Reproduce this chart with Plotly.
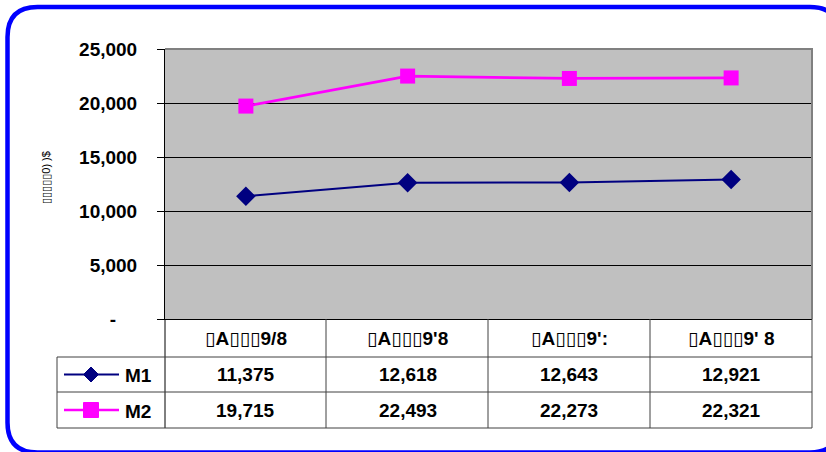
import plotly.graph_objects as go

B = "\u25af"
categories = [f"{B}A{B}{B}{B}9/8", f"{B}A{B}{B}{B}9'8", f"{B}A{B}{B}{B}9':", f"{B}A{B}{B}{B}9' 8"]
series_names = ["M1", "M2"]
m1_values = [11375, 12618, 12643, 12921]
m2_values = [19715, 22493, 22273, 22321]
y_tick_vals = [0, 5000, 10000, 15000, 20000, 25000]
y_tick_text = ["-\u00a0\u00a0\u00a0\u00a0", "5,000", "10,000", "15,000", "20,000", "25,000"]
y_title = f"{B}{B}{B}{B}{B}0) )$"

W, H = 826, 452
FONT = "Liberation Sans, Arial, DejaVu Sans, sans-serif"


def X(px):
    return px / W


def Y(py):
    return 1 - py / H


PL, PR, PT, PB = 165, 812, 49, 319
ROW1_T, ROW1_B, ROW2_B = 357, 392, 428
TABLE_L = 57

fig = go.Figure()
fig.add_trace(go.Scatter(
    x=categories, y=m1_values, mode="lines+markers", name=series_names[0],
    line=dict(color="#000080", width=2),
    marker=dict(symbol="diamond", size=15, color="#000080"),
    cliponaxis=False, showlegend=False))
fig.add_trace(go.Scatter(
    x=categories, y=m2_values, mode="lines+markers", name=series_names[1],
    line=dict(color="#FF00FF", width=2.8),
    marker=dict(symbol="square", size=15, color="#FF00FF"),
    cliponaxis=False, showlegend=False))

shapes = []
# outer rounded blue border
x0, x1, y0, y1 = X(7.5), X(840), Y(7), Y(452.5)
rx, ry = X(30), 30 / H
path = (f"M {x0+rx},{y0} L {x1-rx},{y0} Q {x1},{y0} {x1},{y0-ry} "
        f"L {x1},{y1+ry} Q {x1},{y1} {x1-rx},{y1} "
        f"L {x0+rx},{y1} Q {x0},{y1} {x0},{y1+ry} "
        f"L {x0},{y0-ry} Q {x0},{y0} {x0+rx},{y0} Z")
shapes.append(dict(type="path", path=path, xref="paper", yref="paper",
                   line=dict(color="#0000FF", width=4.5)))
# plot area top/right border
shapes.append(dict(type="line", xref="paper", yref="paper", x0=X(PL), x1=X(PR + 1), y0=Y(PT), y1=Y(PT),
                   line=dict(color="#808080", width=2)))
shapes.append(dict(type="line", xref="paper", yref="paper", x0=X(PR), x1=X(PR), y0=Y(PT), y1=Y(PB),
                   line=dict(color="#808080", width=2)))
# table lines
tc = "#404040"
for xv in [326, 488, 650, PR]:
    shapes.append(dict(type="line", xref="paper", yref="paper", x0=X(xv), x1=X(xv), y0=Y(PB), y1=Y(ROW2_B),
                       line=dict(color=tc, width=1)))
shapes.append(dict(type="line", xref="paper", yref="paper", x0=X(PL), x1=X(PL), y0=Y(PB), y1=Y(ROW2_B),
                   line=dict(color="#000000", width=1)))
shapes.append(dict(type="line", xref="paper", yref="paper", x0=X(TABLE_L), x1=X(TABLE_L), y0=Y(ROW1_T), y1=Y(ROW2_B),
                   line=dict(color=tc, width=1)))
for yv in [ROW1_T, ROW1_B, ROW2_B]:
    shapes.append(dict(type="line", xref="paper", yref="paper", x0=X(TABLE_L), x1=X(PR), y0=Y(yv), y1=Y(yv),
                       line=dict(color=tc, width=1)))
# legend keys
r1c = (ROW1_T + ROW1_B) / 2
r2c = (ROW1_B + ROW2_B) / 2
shapes.append(dict(type="line", xref="paper", yref="paper", x0=X(64), x1=X(119), y0=Y(r1c), y1=Y(r1c),
                   line=dict(color="#000080", width=2)))
cx, d = 91, 7.5
shapes.append(dict(type="path", xref="paper", yref="paper",
                   path=f"M {X(cx-d)},{Y(r1c)} L {X(cx)},{Y(r1c-d)} L {X(cx+d)},{Y(r1c)} L {X(cx)},{Y(r1c+d)} Z",
                   fillcolor="#000080", line=dict(color="#000080", width=1)))
shapes.append(dict(type="line", xref="paper", yref="paper", x0=X(64), x1=X(119), y0=Y(r2c), y1=Y(r2c),
                   line=dict(color="#FF00FF", width=2.5)))
shapes.append(dict(type="rect", xref="paper", yref="paper", x0=X(83.5), x1=X(98.5), y0=Y(r2c - 7.5), y1=Y(r2c + 7.5),
                   fillcolor="#FF00FF", line=dict(color="#FF00FF", width=1)))

TXT = dict(family=FONT, size=19, color="black", weight="bold")
annotations = []
hdr_y = (PB + ROW1_T) / 2
for c in categories:
    annotations.append(dict(x=c, xref="x", xanchor="center", y=Y(hdr_y), yref="paper", yanchor="middle",
                            text=c, showarrow=False, font=TXT))
for vals, ry_ in [(m1_values, r1c), (m2_values, r2c)]:
    for c, v in zip(categories, vals):
        annotations.append(dict(x=c, xref="x", xanchor="center", y=Y(ry_), yref="paper", yanchor="middle",
                                text=f"{v:,}", showarrow=False, font=TXT))
for name, ry_ in zip(series_names, [r1c, r2c]):
    annotations.append(dict(x=X(123), xref="paper", xanchor="left", y=Y(ry_ + 1), yref="paper", yanchor="middle",
                            text=name, showarrow=False, font=TXT))
annotations.append(dict(x=X(46), xref="paper", xanchor="center", y=Y(178), yref="paper", yanchor="middle",
                        text=y_title, textangle=-90,
                        showarrow=False, font=dict(family=FONT, size=11, color="black")))

fig.update_layout(
    width=W, height=H,
    margin=dict(l=0, r=0, t=0, b=0),
    paper_bgcolor="white", plot_bgcolor="#C0C0C0",
    xaxis=dict(domain=[X(PL), X(PR)], type="category", categoryarray=categories,
               range=[-0.5, 3.5], showticklabels=False, showgrid=False, zeroline=False,
               showline=True, linecolor="black", linewidth=1, ticks="", automargin=False),
    yaxis=dict(domain=[Y(PB), Y(PT)], range=[0, 25000], tickvals=y_tick_vals, ticktext=y_tick_text,
               showgrid=True, gridcolor="black", gridwidth=1, zeroline=False,
               showline=True, linecolor="black", linewidth=1, automargin=False,
               ticks="outside", ticklen=7, tickcolor="black", ticklabelstandoff=16,
               tickfont=TXT),
    shapes=shapes, annotations=annotations,
    showlegend=False,
)

fig.write_html("out.html", config={"displayModeBar": False},
               post_script="document.body.style.margin='0';document.body.style.overflow='hidden';")
